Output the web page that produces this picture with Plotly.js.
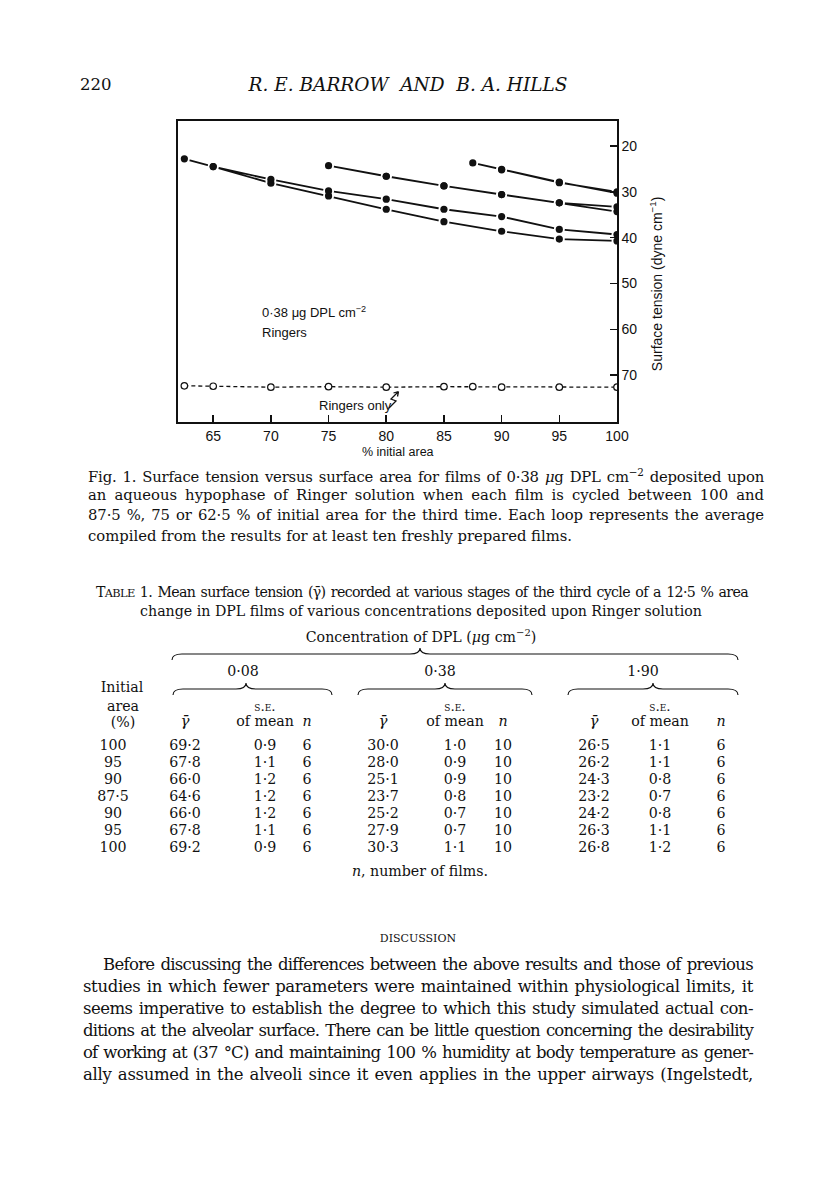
<!DOCTYPE html>
<html>
<head>
<meta charset="utf-8">
<script src="https://cdn.plot.ly/plotly-3.0.1.min.js"></script>
<style>
  html, body { margin: 0; padding: 0; background: #fff; }
  #page { position: relative; width: 816px; height: 1183px; overflow: hidden; background: #fff; }
  #chart { position: absolute; left: 0; top: 0; width: 816px; height: 480px; }
  .t { position: absolute; white-space: nowrap; font-family: "DejaVu Serif", serif; color: #111; line-height: 1; }
  svg.ov { position: absolute; left: 0; top: 0; }
</style>
</head>
<body>
<div id="page">
  <div id="chart"></div>
</div>
<script>
// ---------- chart data ----------
const area875  = [100, 95, 90, 87.5, 90, 95, 100];
const gamma875 = [30.0, 28.0, 25.1, 23.7, 25.2, 27.9, 30.3];

const area75   = [100, 95, 90, 85, 80, 75, 80, 85, 90, 95, 100];
const gamma75  = [33.3, 32.4, 30.6, 28.7, 26.6, 24.3, 26.6, 28.7, 30.6, 32.4, 34.3];

const area625  = [100, 95, 90, 85, 80, 75, 70, 65, 62.5, 65, 70, 75, 80, 85, 90, 95, 100];
const gamma625 = [40.7, 40.3, 38.6, 36.5, 33.8, 30.9, 28.1, 24.5, 22.8, 24.5, 27.3, 29.8, 31.6, 33.8, 35.4, 38.2, 39.3];

const areaRingers  = [62.5, 65, 70, 75, 80, 85, 87.5, 90, 95, 100];
const gammaRingers = [72.3, 72.4, 72.6, 72.5, 72.6, 72.5, 72.5, 72.6, 72.6, 72.6];

const xTicks = [65, 70, 75, 80, 85, 90, 95, 100];
const yTicks = [20, 30, 40, 50, 60, 70];

// ---------- table data ----------
const rowArea = ['100', '95', '90', '87·5', '90', '95', '100'];
const g008  = ['69·2', '67·8', '66·0', '64·6', '66·0', '67·8', '69·2'];
const se008 = ['0·9', '1·1', '1·2', '1·2', '1·2', '1·1', '0·9'];
const n008  = ['6', '6', '6', '6', '6', '6', '6'];
const g038  = ['30·0', '28·0', '25·1', '23·7', '25·2', '27·9', '30·3'];
const se038 = ['1·0', '0·9', '0·9', '0·8', '0·7', '0·7', '1·1'];
const n038  = ['10', '10', '10', '10', '10', '10', '10'];
const g190  = ['26·5', '26·2', '24·3', '23·2', '24·2', '26·3', '26·8'];
const se190 = ['1·1', '1·1', '0·8', '0·7', '0·8', '1·1', '1·2'];
const n190  = ['6', '6', '6', '6', '6', '6', '6'];
const concentrations = ['0·08', '0·38', '1·90'];

// ---------- chart ----------
const SANS = 'Liberation Sans, Arial, sans-serif';
const loops = [[area875, gamma875], [area75, gamma75], [area625, gamma625]];
const traces = [];
loops.forEach(l => traces.push({x: l[0], y: l[1], mode: 'lines', line: {color: '#111', width: 1.8}, hoverinfo: 'skip'}));
loops.forEach(l => traces.push({x: l[0], y: l[1], mode: 'markers', marker: {color: '#fff', size: 11}, hoverinfo: 'skip'}));
loops.forEach(l => traces.push({x: l[0], y: l[1], mode: 'markers', marker: {color: '#111', size: 7.2}, hoverinfo: 'skip'}));
traces.push({x: areaRingers, y: gammaRingers, mode: 'lines+markers',
  line: {color: '#111', width: 1.3, dash: '4px,3px'},
  marker: {symbol: 'circle', color: '#fff', size: 6.5, line: {color: '#111', width: 1.2}}, hoverinfo: 'skip'});

// plot area in pixels: x 178..617, y 121..422
const px = v => (v - 178) / 439, py = v => (422 - v) / 301;
const squiggle = 'M' + px(389) + ',' + py(408) + ' L' + px(396) + ',' + py(401) + ' L' + px(391) + ',' + py(399) +
  ' L' + px(398.5) + ',' + py(391.5) + ' M' + px(398.5) + ',' + py(391.5) + ' L' + px(393.5) + ',' + py(393) +
  ' M' + px(398.5) + ',' + py(391.5) + ' L' + px(397.5) + ',' + py(396.5);

const layout = {
  width: 816, height: 480,
  margin: {l: 178, r: 199, t: 121, b: 58},
  paper_bgcolor: '#fff', plot_bgcolor: '#fff',
  showlegend: false,
  font: {family: SANS, size: 14, color: '#111'},
  xaxis: {
    range: [61.95, 100], tickvals: xTicks, ticktext: xTicks.map(String),
    ticks: 'inside', ticklen: 7, tickwidth: 1.6, tickcolor: '#111',
    showline: true, linecolor: '#111', linewidth: 1.7, mirror: true,
    showgrid: false, zeroline: false, tickfont: {family: SANS, size: 14, color: '#111'}
  },
  yaxis: {
    range: [80.2, 14.55], side: 'right', tickvals: yTicks, ticktext: yTicks.map(String),
    ticks: 'inside', ticklen: 7, tickwidth: 1.6, tickcolor: '#111',
    showline: true, linecolor: '#111', linewidth: 1.7, mirror: true,
    showgrid: false, zeroline: false, tickfont: {family: SANS, size: 14, color: '#111'}
  },
  shapes: [
    {type: 'path', xref: 'paper', yref: 'paper', path: squiggle, line: {color: '#111', width: 1.3}}
  ],
  annotations: [
    {text: 'Surface tension (dyne cm<sup>−1</sup>)', textangle: -90, xref: 'paper', yref: 'paper',
     x: 1, xshift: 39, y: 0.458, xanchor: 'center', yanchor: 'middle', showarrow: false, font: {family: SANS, size: 14}},
    {text: '% initial area', xref: 'paper', yref: 'paper', x: 0.5, y: -0.1, xanchor: 'center', yanchor: 'middle',
     showarrow: false, font: {family: SANS, size: 12.5}},
    {text: '0·38 μg DPL cm<sup>−2</sup>', xref: 'paper', yref: 'paper', x: 0.187, y: 0.365, xanchor: 'left', yanchor: 'middle',
     showarrow: false, font: {family: SANS, size: 13}},
    {text: 'Ringers', xref: 'paper', yref: 'paper', x: 0.187, y: 0.299, xanchor: 'left', yanchor: 'middle',
     showarrow: false, font: {family: SANS, size: 13}},
    {text: 'Ringers only', xref: 'paper', yref: 'paper', x: 0.316, y: 0.056, xanchor: 'left', yanchor: 'middle',
     showarrow: false, font: {family: SANS, size: 13}}
  ]
};
Plotly.newPlot('chart', traces, layout, {staticPlot: true, displayModeBar: false});

// ---------- page text ----------
const page = document.getElementById('page');
function addText(html, x, yc, size, opts) {
  opts = opts || {};
  const el = document.createElement('div');
  el.className = 't';
  el.innerHTML = html;
  el.style.fontSize = size + 'px';
  if (opts.italic) el.style.fontStyle = 'italic';
  if (opts.smallcaps) el.style.fontVariant = 'small-caps';
  if (opts.spacing) el.style.letterSpacing = opts.spacing + 'px';
  page.appendChild(el);
  const r = el.getBoundingClientRect();
  let left = x;
  if (opts.align === 'center') left = x - r.width / 2;
  if (opts.align === 'right') left = x - r.width;
  if (opts.width) {
    // justify to exact width
    const txt = el.textContent;
    const spaces = (txt.match(/ /g) || []).length;
    let extra = opts.width - r.width;
    if (extra < spaces * 1.5) {
      // tighten letters so that word spaces stay reasonable
      const ls = (extra - spaces * 1.5) / txt.length;
      el.style.letterSpacing = ls + 'px';
      const w2 = el.getBoundingClientRect().width;
      extra = opts.width - w2;
    }
    if (spaces > 0) el.style.wordSpacing = (extra / spaces) + 'px';
  }
  el.style.left = left + 'px';
  el.style.top = (yc - size * 0.55) + 'px';
  return el;
}

addText('220', 80, 86, 16.5);
addText('R. E. BARROW&nbsp;&nbsp;AND&nbsp;&nbsp;B. A. HILLS', 408, 86, 18.5, {italic: true, align: 'center'});

const caption = [
  'Fig. 1. Surface tension versus surface area for films of 0·38 <i>μ</i>g DPL cm<sup style="font-size:70%">−2</sup> deposited upon',
  'an aqueous hypophase of Ringer solution when each film is cycled between 100 and',
  '87·5 %, 75 or 62·5 % of initial area for the third time. Each loop represents the average',
  'compiled from the results for at least ten freshly prepared films.'
];
const capY = [475, 496, 516, 537];
caption.forEach((s, i) => addText(s, 88, capY[i], 14.8, i < 3 ? {width: 676} : {}));

addText('T<span style="font-size:80%">ABLE</span> 1. Mean surface tension (<span>γ̄</span>) recorded at various stages of the third cycle of a 12·5 % area',
  96, 593, 14.2, {width: 652});
addText('change in DPL films of various concentrations deposited upon Ringer solution', 421, 612, 14.2, {align: 'center'});
addText('Concentration of DPL (<i>μ</i>g cm<sup style="font-size:70%">−2</sup>)', 421, 636, 14.2, {align: 'center'});

const concX = [243, 440, 643];
concentrations.forEach((c, i) => addText(c, concX[i], 672, 14.2, {align: 'center'}));

addText('Initial', 122, 688, 14.2, {align: 'center'});
addText('area', 123, 707, 14.2, {align: 'center'});
addText('(%)', 123, 723, 14.2, {align: 'center'});

const gX = [185, 383, 594], seX = [265, 455, 660], nX = [307, 503, 721];
for (let k = 0; k < 3; k++) {
  addText('s.e.', seX[k], 707, 13.5, {align: 'center', smallcaps: true});
  addText('<i>γ̄</i>', gX[k], 722, 15, {align: 'center'});
  addText('of mean', seX[k], 722, 14.2, {align: 'center'});
  addText('<i>n</i>', nX[k], 722, 14.2, {align: 'center'});
}
const cols = [[g008, se008, n008], [g038, se038, n038], [g190, se190, n190]];
const rowY0 = 746, rowDY = 17;
rowArea.forEach((a, r) => {
  const y = rowY0 + r * rowDY;
  addText(a, 113, y, 14.2, {align: 'center'});
  cols.forEach((c, k) => {
    addText(c[0][r], gX[k], y, 14.2, {align: 'center'});
    addText(c[1][r], seX[k], y, 14.2, {align: 'center'});
    addText(c[2][r], nX[k], y, 14.2, {align: 'center'});
  });
});
addText('<i>n</i>, number of films.', 420, 872, 14.2, {align: 'center'});

addText('discussion', 418, 939, 15.5, {align: 'center', smallcaps: true});
const para = [
  'Before discussing the differences between the above results and those of previous',
  'studies in which fewer parameters were maintained within physiological limits, it',
  'seems imperative to establish the degree to which this study simulated actual con-',
  'ditions at the alveolar surface. There can be little question concerning the desirability',
  'of working at (37 °C) and maintaining 100 % humidity at body temperature as gener-',
  'ally assumed in the alveoli since it even applies in the upper airways (Ingelstedt,'
];
para.forEach((s, i) => {
  const left = i === 0 ? 103 : 83;
  addText(s, left, 966 + i * 22, 16.5, {width: 753 - left});
});

// ---------- braces ----------
const NS = 'http://www.w3.org/2000/svg';
const svg = document.createElementNS(NS, 'svg');
svg.setAttribute('class', 'ov');
svg.setAttribute('width', 816); svg.setAttribute('height', 1183);
page.appendChild(svg);
function brace(x1, x2, xm, yEnd, yBar, yPeak) {
  const p = document.createElementNS(NS, 'path');
  const d = `M${x1},${yEnd} Q${x1},${yBar} ${x1+10},${yBar} L${xm-10},${yBar} Q${xm},${yBar} ${xm},${yPeak} ` +
            `Q${xm},${yBar} ${xm+10},${yBar} L${x2-10},${yBar} Q${x2},${yBar} ${x2},${yEnd}`;
  p.setAttribute('d', d);
  p.setAttribute('fill', 'none'); p.setAttribute('stroke', '#111'); p.setAttribute('stroke-width', '1.1');
  svg.appendChild(p);
}
brace(172, 738, 420, 660, 654, 648);
brace(173, 332, 246, 695, 689, 683);
brace(358, 532, 445, 695, 689, 683);
brace(568, 738, 653, 695, 689, 683);
</script>
</body>
</html>
